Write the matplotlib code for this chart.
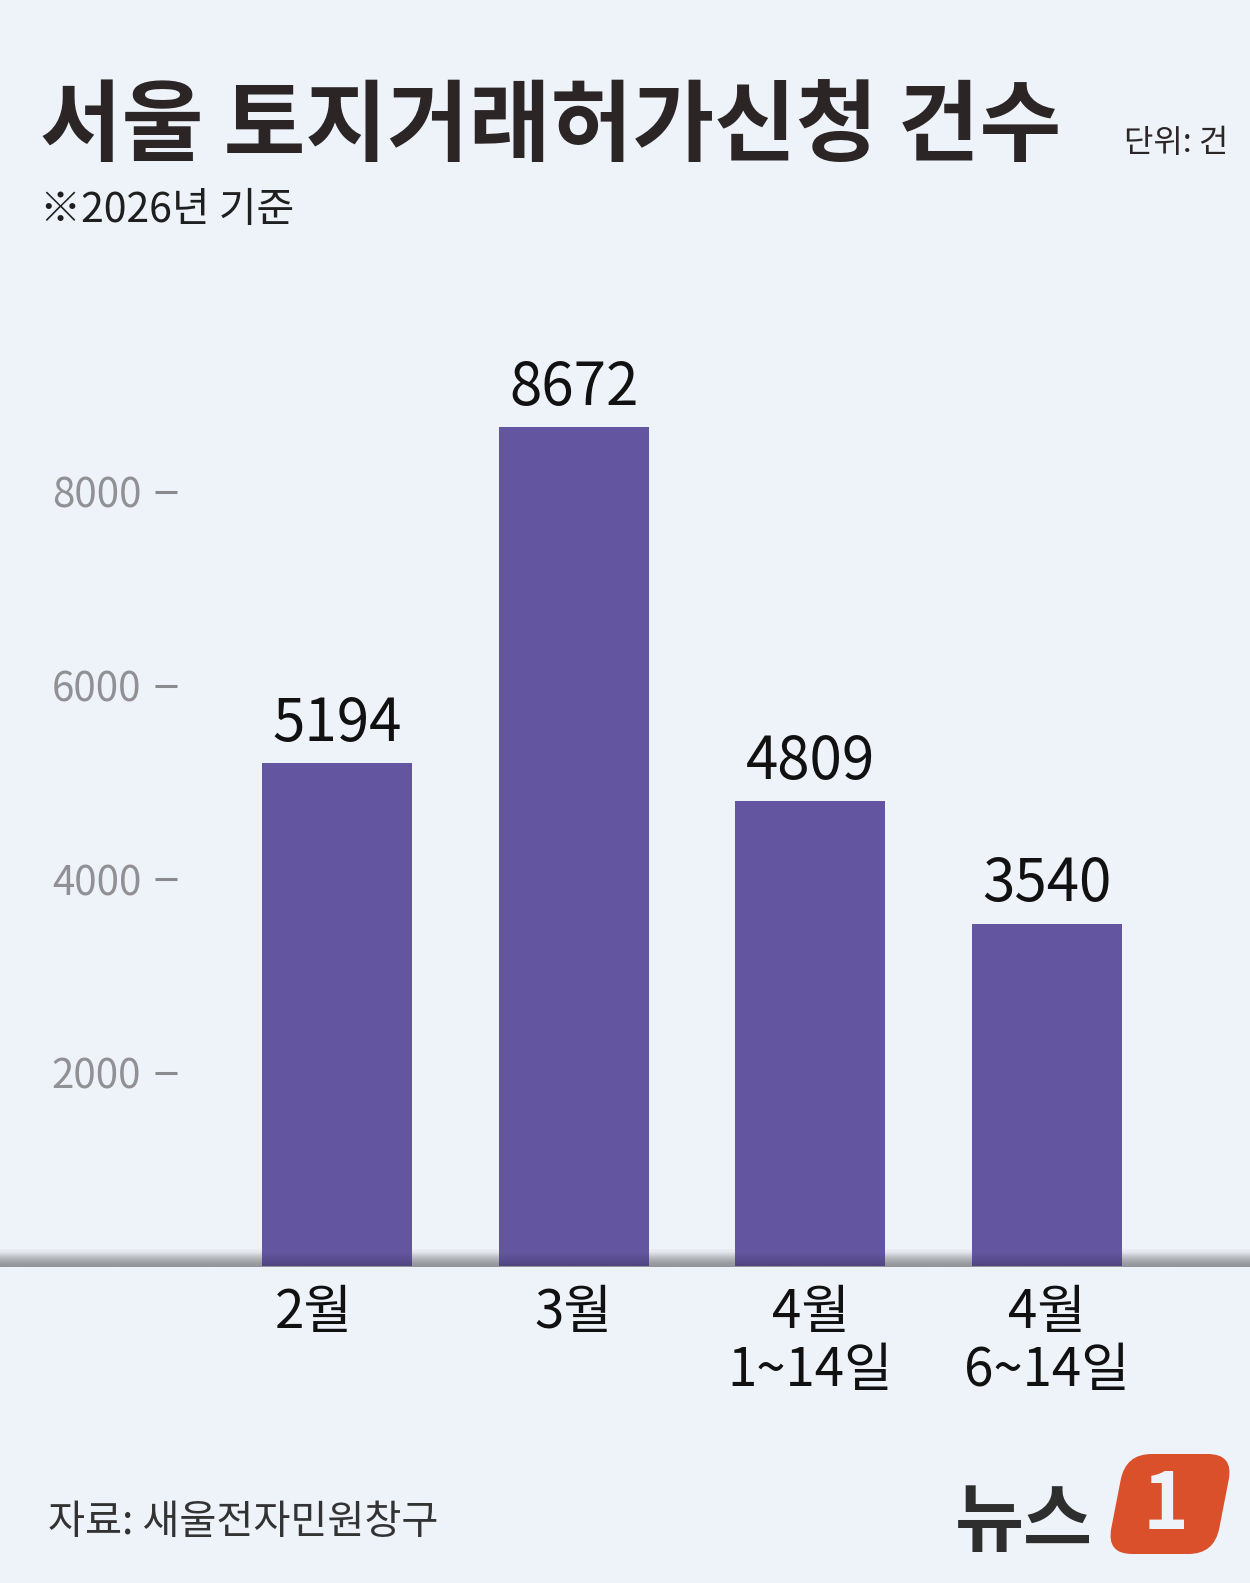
import numpy as np
import matplotlib
matplotlib.use("Agg")
import matplotlib.pyplot as plt
from matplotlib.patches import FancyBboxPatch
from matplotlib.transforms import Affine2D

plt.rcParams["font.family"] = ["Noto Sans CJK KR", "DejaVu Sans"]

# data
categories = ["2월", "3월", "4월\n1~14일", "4월\n6~14일"]
values = [5194, 8672, 4809, 3540]
yticks = [2000, 4000, 6000, 8000]

title = "서울 토지거래허가신청 건수"
subtitle = "※2026년 기준"
unit = "단위: 건"
source = "자료: 새울전자민원창구"

BG = "#eef2f9"
BAR = "#63559f"

W, H = 1250, 1583
fig = plt.figure(figsize=(W / 100, H / 100), dpi=100)
fig.patch.set_facecolor(BG)

# full-figure axes in pixel coords (y down) for decorations
bg = fig.add_axes([0, 0, 1, 1], zorder=0)
bg.set_xlim(0, W)
bg.set_ylim(H, 0)
bg.axis("off")

# baseline band (gray gradient)
band = np.array([[0.91, 0.92, 0.94], [0.86, 0.87, 0.89], [0.80, 0.81, 0.83],
                 [0.76, 0.77, 0.79], [0.73, 0.74, 0.76], [0.72, 0.73, 0.75]])
bg.imshow(band[:, None, :], extent=[0, W, 1267, 1249], aspect="auto",
          interpolation="bilinear")

# main chart axes
base_px, top_px, left_px = 1266, 300, 177
px_per_2000 = 193.5
ax = fig.add_axes([left_px / W, (H - base_px) / H, (W - left_px) / W,
                   (base_px - top_px) / H], zorder=2)
ax.patch.set_alpha(0)

x = np.arange(len(values))
spacing = 236.7
ax.bar(x, values, width=150 / spacing, color=BAR, zorder=3)
ax.set_xlim(-(337 - left_px) / spacing, (W - 337) / spacing)
ax.set_ylim(0, (base_px - top_px) * 2000 / px_per_2000)

for s in ax.spines.values():
    s.set_visible(False)
ax.set_yticks(yticks)
ax.set_yticklabels([str(t) for t in yticks], fontsize=29, color="#919195",
                   fontweight="light")
ax.tick_params(axis="y", direction="out", length=15.8, width=2.2,
               color="#8a8a8e", pad=10)
ax.set_xticks([])

for xi, v in zip(x, values):
    ax.annotate(str(v), xy=(xi, v), xytext=(0, 16), textcoords="offset points",
                ha="center", va="baseline", fontsize=42, color="#111111",
                fontweight="medium")

label_shift = [-17, 0, 0, 0]
for xi, lab, dx in zip(x, categories, label_shift):
    ax.annotate(lab, xy=(xi, 0), xytext=(dx, -14), textcoords="offset points",
                ha="center", va="top", fontsize=38, color="#111111",
                linespacing=1.05, annotation_clip=False)

# shadow at the bottom of the bars
ov = fig.add_axes([0, 0, 1, 1], zorder=3)
ov.set_xlim(0, W)
ov.set_ylim(H, 0)
ov.axis("off")
shade = np.zeros((8, 1, 4))
shade[:, 0, 3] = np.linspace(0.0, 0.2, 8)
ov.imshow(shade, extent=[0, W, 1267, 1252], aspect="auto", interpolation="bilinear")

# titles
bg.text(40, 154, title, fontsize=64, fontweight="bold", color="#2b2526",
        ha="left", va="baseline")
bg.text(1228, 152, unit, fontsize=23, color="#2b2526", ha="right", va="baseline")
bg.text(40, 222, subtitle, fontsize=29.5, color="#1f1f1f", ha="left", va="baseline")
bg.text(48, 1534, source, fontsize=29, color="#333333", ha="left", va="baseline")

# logo
bg.text(1093, 1545, "뉴스", fontsize=54, fontweight="bold", color="#2e2e2e",
        ha="right", va="baseline")
cx, cy = 1170, 1504
box = FancyBboxPatch((cx - 38, cy - 34), 76, 68,
                     boxstyle="round,pad=16,rounding_size=26",
                     facecolor="#d9502a", edgecolor="none")
box.set_transform(Affine2D().translate(-cx, -cy).skew_deg(-11, 0)
                  .translate(cx, cy) + bg.transData)
bg.add_patch(box)
bg.text(cx - 4, cy + 2, "1", fontsize=56, fontweight="bold", color=BG,
        ha="center", va="center", style="italic")

fig.savefig("out.png", dpi=100, facecolor=BG)
